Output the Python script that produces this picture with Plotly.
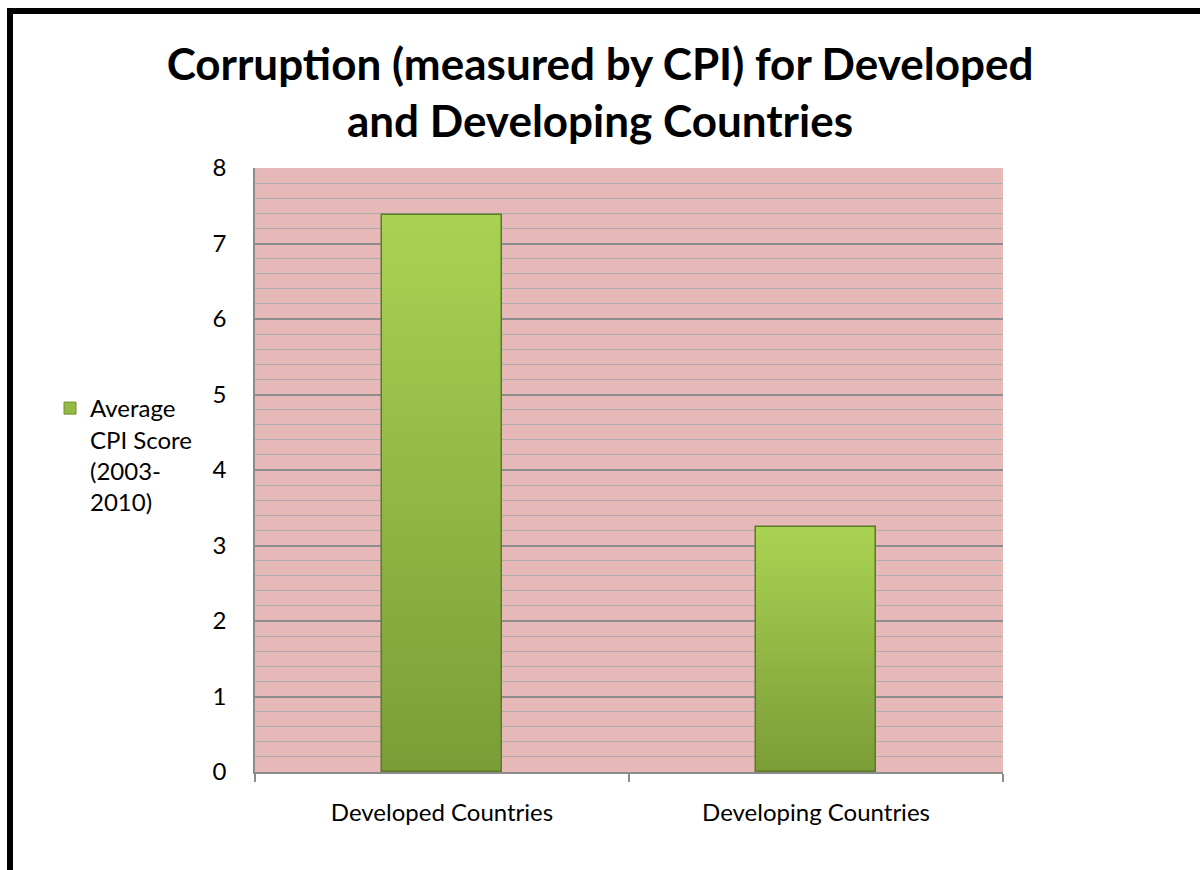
import plotly.graph_objects as go

# Average CPI score (2003-2010) by country group
categories = ["Developed Countries", "Developing Countries"]
cpi_scores = [7.38, 3.24]
series_name = "Average<br>CPI Score<br>(2003-<br>2010)"
y_ticks = [0, 1, 2, 3, 4, 5, 6, 7, 8]

W, H = 1200, 870
ML, MR, MT, MB = 255, 197, 168, 98

FONT = "Lato"

# vertical gradient for the bars: dark at the base, light at the top
bottom_rgb = (0x7A, 0x9C, 0x37)
top_rgb = (0xA9, 0xD2, 0x52)
N_STEPS = 60


def mix(f):
    r = [round(b + (t - b) * f) for b, t in zip(bottom_rgb, top_rgb)]
    return "rgb({},{},{})".format(*r)


fig = go.Figure()

# progressively shorter bars painted on top of each other give the gradient
for k in range(N_STEPS):
    frac = (N_STEPS - k) / N_STEPS
    fig.add_trace(go.Bar(
        x=categories,
        y=[v * frac for v in cpi_scores],
        width=0.32,
        marker=dict(color=mix(frac), line=dict(width=0)),
        showlegend=False,
        hoverinfo="skip",
    ))

# outline of each bar
fig.add_trace(go.Bar(
    x=categories,
    y=cpi_scores,
    width=0.32,
    name=series_name,
    marker=dict(color="rgba(0,0,0,0)", line=dict(color="#5B7A26", width=1.5)),
    showlegend=False,
))
# legend entry for the series
fig.add_trace(go.Bar(
    x=[categories[0]],
    y=[None],
    name=series_name,
    marker=dict(color="#93BA44", line=dict(color="#6E8F2E", width=1)),
    showlegend=True,
))

# outer frame of the chart
px = lambda x: (x - ML) / (W - ML - MR)
py = lambda y: (H - MB - y) / (H - MT - MB)
fig.add_shape(type="rect", xref="paper", yref="paper",
              x0=px(10), x1=px(1215), y0=py(11), y1=py(890),
              line=dict(color="black", width=6), fillcolor="rgba(0,0,0,0)",
              layer="above")

fig.update_layout(
    width=W, height=H,
    margin=dict(l=ML, r=MR, t=MT, b=MB, autoexpand=False),
    paper_bgcolor="white",
    plot_bgcolor="#E6B9B8",
    barmode="overlay",
    bargap=0,
    font=dict(family=FONT, color="black", size=24),
    title=dict(
        text="<b>Corruption (measured by CPI) for Developed<br>and Developing Countries</b>",
        x=0.5, xanchor="center", xref="container",
        y=1 - 80 / H, yanchor="top", yref="container",
        font=dict(family=FONT, size=44, color="black"),
    ),
    legend=dict(
        x=px(50), xanchor="left",
        y=py(455), yanchor="middle",
        valign="top",
        font=dict(family=FONT, size=24, color="black"),
        bgcolor="rgba(0,0,0,0)",
        itemclick=False,
    ),
    showlegend=True,
)

fig.update_xaxes(
    type="category",
    showline=True, linecolor="#8C8C8C", linewidth=1.5,
    tickson="boundaries", ticks="outside", ticklen=8,
    tickcolor="#8C8C8C", tickwidth=1.5,
    showgrid=False, zeroline=False,
    ticklabelstandoff=18,
    tickfont=dict(family=FONT, size=24, color="black"),
)

fig.update_yaxes(
    range=[0, 8],
    tickvals=y_ticks,
    ticktext=[str(t) for t in y_ticks],
    showline=True, linecolor="#8C8C8C", linewidth=1.5,
    ticks="",
    showgrid=True, gridcolor="#8C8C8C", gridwidth=1.5,
    zeroline=False,
    minor=dict(dtick=0.2, showgrid=True, gridcolor="#ADADAD", gridwidth=1.2),
    ticklabelstandoff=22,
    tickfont=dict(family=FONT, size=24, color="black"),
)

fig.write_html("out.html")
